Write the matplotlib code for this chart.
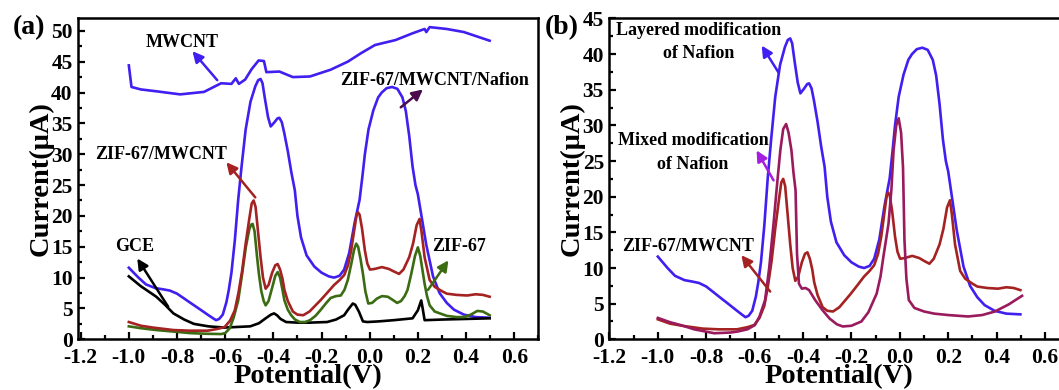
import matplotlib
matplotlib.use("Agg")
import matplotlib.pyplot as plt
from matplotlib.ticker import MultipleLocator, FormatStrFormatter

# ---- data (potential V, current uA) ----
nafion_x = [-1.0, -0.96, -0.929, -0.89, -0.858, -0.83, -0.8, -0.77, -0.744, -0.71, -0.673, -0.65,
            -0.638, -0.625, -0.61, -0.595, -0.585, -0.574, -0.56, -0.546, -0.532, -0.515, -0.495,
            -0.475, -0.463, -0.453, -0.445, -0.435, -0.422, -0.411, -0.395, -0.383, -0.375, -0.365,
            -0.355, -0.34, -0.325, -0.311, -0.3, -0.285, -0.262, -0.23, -0.2, -0.17, -0.148, -0.125,
            -0.106, -0.085, -0.063, -0.042, -0.03, -0.02, -0.005, 0.015, 0.035, 0.05, 0.07, 0.093,
            0.115, 0.136, 0.15, 0.164, 0.178, 0.19, 0.2, 0.215, 0.235, 0.263, 0.29, 0.32, 0.35,
            0.391, 0.44, 0.498]
nafion_y = [11.6, 10.0, 8.9, 8.3, 8.1, 7.9, 7.4, 6.6, 5.9, 5.0, 4.0, 3.4,
            3.1, 3.3, 4.0, 6.0, 8.0, 10.8, 16.0, 22.6, 28.0, 34.0, 38.5,
            41.0, 42.0, 42.2, 41.5, 39.0, 36.0, 34.5, 35.2, 35.8, 35.9, 35.2,
            33.5, 30.5, 27.0, 24.2, 20.0, 16.5, 13.6, 11.8, 10.8, 10.2, 10.0, 10.3,
            11.3, 14.0, 18.8, 22.6, 26.5, 30.0, 34.0, 37.1, 39.2, 40.0, 40.7, 40.9,
            40.6, 39.2, 37.0, 33.0, 28.0, 25.0, 23.5, 20.0, 15.3, 10.2, 7.5, 5.9, 4.8,
            4.0, 3.6, 3.5]

mwcnt_x = [-1.0, -0.989, -0.95, -0.886, -0.787, -0.688, -0.617, -0.574, -0.556, -0.543, -0.517,
           -0.49, -0.461, -0.439, -0.429, -0.375, -0.319, -0.248, -0.162, -0.091, -0.035, 0.022,
           0.107, 0.178, 0.228, 0.235, 0.249, 0.32, 0.391, 0.498]
mwcnt_y = [44.4, 40.9, 40.5, 40.2, 39.7, 40.1, 41.5, 41.4, 42.3, 41.4, 42.1,
           43.8, 45.2, 45.1, 43.3, 43.4, 42.5, 42.6, 43.7, 45.0, 46.4, 47.7,
           48.5, 49.6, 50.3, 49.8, 50.6, 50.3, 49.8, 48.4]

zm_x = [-1.0, -0.95, -0.9, -0.815, -0.75, -0.673, -0.63, -0.602, -0.58, -0.56, -0.545, -0.53,
        -0.515, -0.5, -0.49, -0.482, -0.474, -0.465, -0.453, -0.443, -0.432, -0.42, -0.405,
        -0.392, -0.382, -0.372, -0.362, -0.354, -0.34, -0.319, -0.3, -0.276, -0.25, -0.23,
        -0.205, -0.175, -0.148, -0.125, -0.106, -0.09, -0.077, -0.063, -0.055, -0.049, -0.042,
        -0.032, -0.02, -0.01, 0.001, 0.02, 0.051, 0.08, 0.1, 0.122, 0.14, 0.164, 0.18, 0.195,
        0.207, 0.215, 0.228, 0.249, 0.27, 0.3, 0.32, 0.36, 0.405, 0.44, 0.47, 0.498]
zm_y = [2.8, 2.2, 1.9, 1.5, 1.4, 1.4, 1.7, 2.0, 3.0, 4.7, 7.5, 11.0,
        15.5, 19.5, 22.0, 22.5, 21.5, 18.0, 13.3, 10.0, 8.2, 8.8, 10.8,
        12.0, 12.2, 11.3, 9.8, 8.0, 6.2, 4.5, 4.0, 3.9, 4.5, 5.3,
        6.3, 7.6, 8.8, 9.6, 10.4, 12.0, 14.4, 18.0, 20.0, 20.6, 20.2,
        18.0, 14.4, 12.3, 11.3, 11.4, 11.7, 11.4, 11.0, 10.6, 11.3, 13.3, 15.5, 18.5,
        19.5, 17.5, 13.3, 9.6, 8.5, 7.8, 7.4, 7.2, 7.1, 7.3, 7.2, 6.9]

zif_x = [-1.0, -0.95, -0.886, -0.8, -0.744, -0.68, -0.617, -0.6, -0.581, -0.565, -0.546, -0.53,
         -0.514, -0.5, -0.492, -0.486, -0.478, -0.468, -0.46, -0.45, -0.44, -0.432, -0.42,
         -0.404, -0.392, -0.382, -0.372, -0.362, -0.354, -0.34, -0.326, -0.31, -0.29, -0.268,
         -0.248, -0.225, -0.205, -0.18, -0.162, -0.14, -0.12, -0.105, -0.091, -0.075, -0.065,
         -0.056, -0.048, -0.038, -0.028, -0.018, -0.006, 0.01, 0.03, 0.051, 0.075, 0.095, 0.114,
         0.13, 0.145, 0.157, 0.172, 0.188, 0.2, 0.21, 0.22, 0.228, 0.238, 0.249, 0.27, 0.32,
         0.36, 0.391, 0.42, 0.447, 0.47, 0.498]
zif_y = [2.1, 1.8, 1.5, 1.2, 1.0, 0.9, 0.85, 1.0, 1.8, 3.5, 6.3, 10.5,
         15.0, 17.8, 18.6, 18.7, 17.5, 13.5, 10.6, 7.8, 6.2, 5.5, 6.2,
         8.5, 10.3, 10.9, 10.0, 8.0, 6.3, 4.8, 3.9, 3.2, 2.8, 2.8,
         3.1, 3.8, 4.7, 5.9, 6.7, 7.0, 7.1, 8.0, 9.6, 12.5, 14.5,
         15.5, 15.0, 13.0, 10.6, 7.8, 5.8, 5.9, 6.6, 7.0, 6.9, 6.4, 5.9,
         6.2, 7.0, 8.0, 10.5, 13.5, 14.9, 13.5, 11.0, 9.0, 7.0, 5.5, 4.5, 3.8,
         3.6, 3.6, 4.0, 4.6, 4.5, 3.9]

gce_x = [-1.0, -0.95, -0.886, -0.85, -0.815, -0.77, -0.73, -0.67, -0.602, -0.55, -0.496, -0.46,
         -0.432, -0.41, -0.397, -0.385, -0.37, -0.347, -0.3, -0.25, -0.177, -0.14, -0.106, -0.09,
         -0.07, -0.06, -0.045, -0.028, -0.01, 0.036, 0.1, 0.178, 0.2, 0.214, 0.22, 0.228, 0.3,
         0.4, 0.498]
gce_y = [10.2, 8.6, 6.9, 5.6, 4.2, 3.2, 2.5, 2.1, 1.9, 2.0, 2.1, 2.6,
         3.4, 4.0, 4.2, 3.9, 3.3, 2.8, 2.7, 2.7, 2.8, 3.2, 3.9, 4.8,
         5.8, 5.6, 4.5, 2.9, 2.8, 2.9, 3.1, 3.4, 4.7, 6.3, 5.0, 3.1, 3.2,
         3.3, 3.4]

mixed_x = [-1.0, -0.95, -0.906, -0.85, -0.767, -0.7, -0.669, -0.63, -0.599, -0.58, -0.557, -0.54,
           -0.522, -0.508, -0.494, -0.482, -0.47, -0.46, -0.448, -0.44, -0.431, -0.425, -0.417,
           -0.405, -0.39, -0.375, -0.35, -0.32, -0.29, -0.26, -0.236, -0.2, -0.159, -0.13,
           -0.096, -0.08, -0.068, -0.047, -0.035, -0.026, -0.015, -0.005, 0.005, 0.013, 0.019,
           0.027, 0.037, 0.06, 0.1, 0.142, 0.2, 0.282, 0.34, 0.393, 0.45, 0.505]
mixed_y = [3.0, 2.4, 2.0, 1.4, 0.85, 0.95, 1.1, 1.4, 2.0, 3.2, 5.5, 10.0,
           16.2, 21.5, 26.5, 29.5, 30.2, 29.0, 26.5, 23.5, 20.9, 12.0, 7.8,
           7.1, 7.2, 6.9, 5.5, 4.1, 2.9, 2.1, 1.8, 1.9, 2.5, 3.8,
           6.4, 8.8, 11.6, 16.2, 21.0, 26.5, 30.0, 31.0, 29.0, 24.1, 13.9,
           8.5, 5.5, 4.4, 3.9, 3.6, 3.4, 3.2, 3.4, 3.9, 4.9, 6.1]

BLUE = "#401ff0"
RED = "#a52222"
GREEN = "#3b6b12"
MAGENTA = "#9a1a5e"

plt.rcParams["font.family"] = "serif"
plt.rcParams["font.serif"] = ["Liberation Serif", "DejaVu Serif"]
plt.rcParams["font.weight"] = "bold"
plt.rcParams["axes.labelweight"] = "bold"
plt.rcParams["axes.unicode_minus"] = False

fig = plt.figure(figsize=(10.59, 3.9), dpi=100)
ax_a = fig.add_axes([0.0739, 0.130, 0.4344, 0.8226])
ax_b = fig.add_axes([0.5755, 0.130, 0.4342, 0.8226])


def style_axes(ax, xmin, ymax):
    ax.set_xlim(xmin, 0.7)
    ax.set_ylim(0, ymax)
    ax.xaxis.set_major_locator(MultipleLocator(0.2))
    ax.xaxis.set_minor_locator(MultipleLocator(0.1))
    ax.xaxis.set_major_formatter(FormatStrFormatter("%.1f"))
    ax.yaxis.set_major_locator(MultipleLocator(5))
    ax.yaxis.set_minor_locator(MultipleLocator(2.5))
    ax.tick_params(which="both", direction="in", top=False, right=False, width=1.6)
    ax.tick_params(which="major", length=5, labelsize=15.5)
    ax.tick_params(which="minor", length=3)
    ax.tick_params(axis="x", pad=6)
    ax.tick_params(axis="y", pad=4)
    for sp in ax.spines.values():
        sp.set_linewidth(1.8)
    ax.set_xlabel("Potential(V)", fontsize=20.5, labelpad=-2.5)
    ax.set_ylabel("Current(μA)", fontsize=20.5, labelpad=-2)


def note(ax, text, xy, xytext, arrow_color, tx, ty):
    ax.annotate("", xy=xytext, xytext=xy,
                arrowprops=dict(arrowstyle="-|>", color=arrow_color, lw=1.8, mutation_scale=16,
                                shrinkA=0, shrinkB=0))
    ax.text(tx, ty, text, ha="center", va="center", fontsize=13, fontweight="bold",
            multialignment="center", linespacing=1.5)


lw = 1.9
# panel (a)
ax_a.plot(mwcnt_x, mwcnt_y, color=BLUE, lw=lw)
ax_a.plot(nafion_x, nafion_y, color=BLUE, lw=lw)
ax_a.plot(gce_x, gce_y, color="black", lw=lw)
ax_a.plot(zif_x, zif_y, color=GREEN, lw=lw)
ax_a.plot(zm_x, zm_y, color=RED, lw=lw)
style_axes(ax_a, -1.21, 52)

note(ax_a, "MWCNT", (-0.633, 42.0), (-0.736, 46.7), BLUE, -0.777, 48.1)
note(ax_a, "ZIF-67/MWCNT/Nafion", (0.129, 37.6), (0.221, 40.5), "#4a0c4a", 0.271, 41.9)
note(ax_a, "ZIF-67/MWCNT", (-0.475, 23.0), (-0.595, 28.7), RED, -0.865, 30.0)
note(ax_a, "GCE", (-0.837, 5.3), (-0.965, 13.1), "black", -0.977, 15.0)
note(ax_a, "ZIF-67", (0.242, 8.0), (0.327, 12.8), GREEN, 0.373, 15.0)

# panel (b)
ax_b.plot(nafion_x, nafion_y, color=BLUE, lw=lw)
ax_b.plot(zm_x, zm_y, color=RED, lw=lw)
ax_b.plot(mixed_x, mixed_y, color=MAGENTA, lw=lw)
style_axes(ax_b, -1.2, 45)

note(ax_b, "Layered modification\nof Nafion", (-0.501, 37.4), (-0.571, 41.2), BLUE, -0.83, 41.7)
note(ax_b, "Mixed modification\nof Nafion", (-0.522, 22.3), (-0.592, 26.5), "#a41de0", -0.855, 26.2)
note(ax_b, "ZIF-67/MWCNT", (-0.536, 6.7), (-0.655, 11.8), RED, -0.877, 13.0)

fig.text(0.027, 0.928, "(a)", fontsize=20, fontweight="bold", ha="center", va="center")
fig.text(0.530, 0.928, "(b)", fontsize=20, fontweight="bold", ha="center", va="center")

fig.savefig("out.png", dpi=100)
